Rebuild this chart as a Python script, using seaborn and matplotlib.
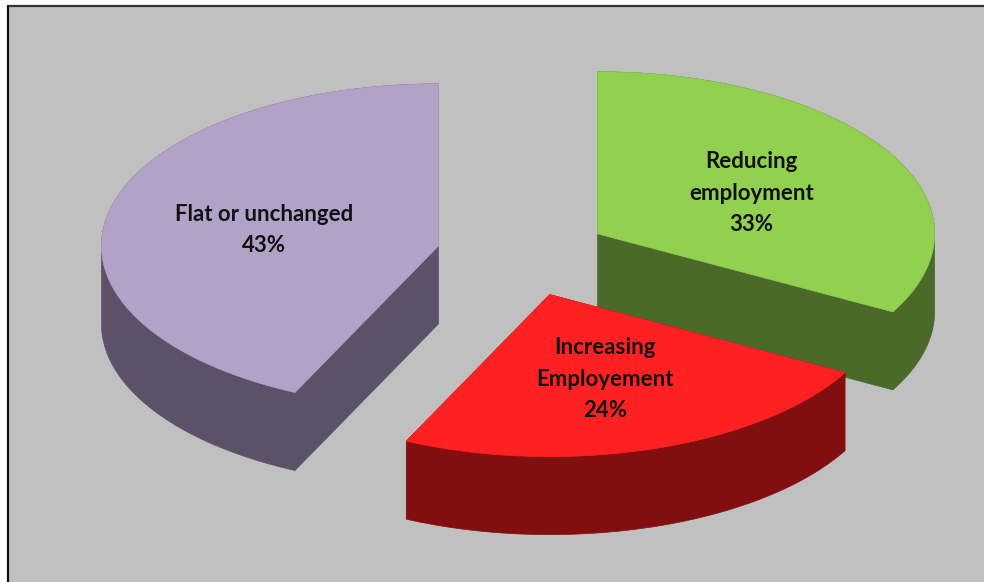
import numpy as np
import matplotlib
matplotlib.use("Agg")
import matplotlib.pyplot as plt
import seaborn as sns
from matplotlib.patches import Polygon, Rectangle
from matplotlib.lines import Line2D

# ---- data ----
categories = ["Reducing\nemployment", "Increasing\nEmployement", "Flat or unchanged"]
values = [33, 24, 43]
top_colors = ["#92D050", "#FF2121", "#B3A2C7"]
side_colors = ["#4B6A2A", "#820F0F", "#5C5168"]

sns.set_theme(style="white")
plt.rcParams["font.family"] = ["Lato", "DejaVu Sans"]

W, H = 984, 582
fig = plt.figure(figsize=(W / 100, H / 100), dpi=100)
fig.patch.set_facecolor("white")
ax = fig.add_axes([0, 0, 1, 1])
ax.set_xlim(0, W)
ax.set_ylim(H, 0)
ax.axis("off")

# plot area background + border
ax.add_patch(Rectangle((7.5, 6), W, H, facecolor="#C0C0C0", edgecolor="none", zorder=0))
ax.add_line(Line2D([7.5, W], [6, 6], color="#333333", lw=1.6, zorder=1))
ax.add_line(Line2D([7.5, 7.5], [6, H], color="#111111", lw=1.6, zorder=1))

# 3D pie layout
cx, cy = 523, 255
a, b = 337, 162
depth = 78
explode = 0.257
label_frac = 0.53


def hull(points):
    pts = sorted(set(map(tuple, np.round(points, 3))))
    def cross(o, p, q):
        return (p[0] - o[0]) * (q[1] - o[1]) - (p[1] - o[1]) * (q[0] - o[0])
    lower, upper = [], []
    for p in pts:
        while len(lower) >= 2 and cross(lower[-2], lower[-1], p) <= 0:
            lower.pop()
        lower.append(p)
    for p in reversed(pts):
        while len(upper) >= 2 and cross(upper[-2], upper[-1], p) <= 0:
            upper.pop()
        upper.append(p)
    return np.array(lower[:-1] + upper[:-1])


total = float(sum(values))
slices = []
start = 90.0
for name, v, tc, sc in zip(categories, values, top_colors, side_colors):
    span = 360.0 * v / total
    t1, t2 = start, start - span
    mid = np.radians((t1 + t2) / 2)
    ox = cx + explode * a * np.cos(mid)
    oy = cy - explode * b * np.sin(mid)
    th = np.radians(np.linspace(t1, t2, 200))
    arc = np.column_stack([ox + a * np.cos(th), oy - b * np.sin(th)])
    top = np.vstack([[ox, oy], arc])
    bottom = top + np.array([0, depth])
    side = hull(np.vstack([top, bottom]))
    lx = ox + label_frac * a * np.cos(mid)
    ly = oy - label_frac * b * np.sin(mid) + 3
    slices.append((oy, top, side, tc, sc, f"{name}\n{v}%", lx, ly))
    start = t2

for oy, top, side, tc, sc, lab, lx, ly in sorted(slices, key=lambda s: s[0]):
    ax.add_patch(Polygon(side, closed=True, facecolor=sc, edgecolor=sc, lw=0.5, zorder=2))
    ax.add_patch(Polygon(top, closed=True, facecolor=tc, edgecolor=tc, lw=0.5, zorder=3))

for oy, top, side, tc, sc, lab, lx, ly in slices:
    ax.text(lx, ly, lab, ha="center", va="center", fontsize=16, fontweight="bold",
            color="#111111", linespacing=1.62, zorder=5)

fig.savefig("out.png", dpi=100, facecolor=fig.get_facecolor())
